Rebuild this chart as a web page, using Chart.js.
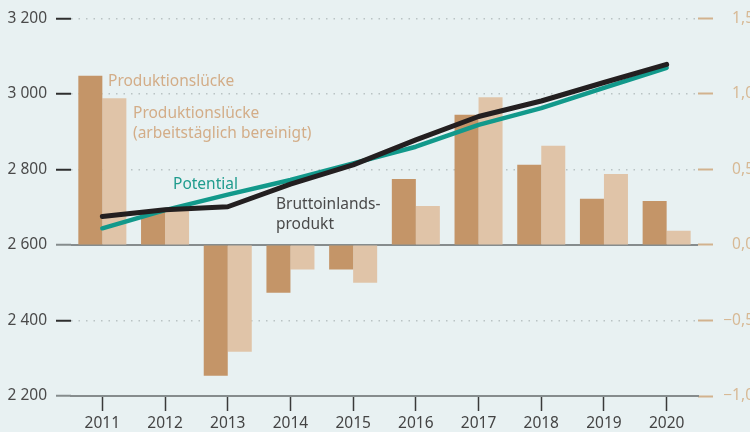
<!DOCTYPE html>
<html>
<head>
<meta charset="utf-8">
<script src="https://cdn.jsdelivr.net/npm/chart.js@4"></script>
<style>
  html, body { margin: 0; padding: 0; background: #e8f1f2; overflow: hidden; }
  #wrap { position: relative; width: 750px; height: 432px; overflow: hidden; }
  #box { position: absolute; left: 0; top: 0; width: 760px; height: 432px; }
  .note { position: absolute; font: 15.5px "Noto Sans", sans-serif; line-height: 20px; white-space: nowrap; }
</style>
</head>
<body>
<div id="wrap">
  <div id="box"><canvas id="chart" width="760" height="432"></canvas></div>
  <div class="note" style="left:108px;top:70px;color:#d3ad88">Produktionslücke</div>
  <div class="note" style="left:133px;top:102px;color:#d3ad88">Produktionslücke<br>(arbeitstäglich bereinigt)</div>
  <div class="note" style="left:173px;top:173px;color:#1f9c8e">Potential</div>
  <div class="note" style="left:276px;top:193px;color:#4a4a4a">Bruttoinlands-<br>produkt</div>
</div>
<script>
// ===== Data =====
const years = ["2011", "2012", "2013", "2014", "2015", "2016", "2017", "2018", "2019", "2020"];
const gap = [1.12, 0.22, -0.866, -0.316, -0.163, 0.437, 0.861, 0.53, 0.305, 0.291];
const gapAdjusted = [0.97, 0.245, -0.707, -0.163, -0.25, 0.258, 0.978, 0.656, 0.47, 0.093];
const potential = [2644, 2692, 2733, 2772, 2816, 2860, 2918, 2962, 3016, 3069];
const gdp = [2675, 2693, 2701, 2761, 2812, 2878, 2940, 2981, 3030, 3078];
const leftTicks = [2200, 2400, 2600, 2800, 3000, 3200];
const rightTicks = [-1.0, -0.5, 0.0, 0.5, 1.0, 1.5];

const FONT = { family: "'Noto Sans', sans-serif", size: 15.5 };

function fmtLeft(v) {
  return String(v).replace(/\B(?=(\d{3})+$)/g, " ");
}
function fmtRight(v) {
  return v.toFixed(1).replace(".", ",").replace("-", "\u2212");
}

// solid base line at 2 600 / 0,0
const zeroLine = {
  id: "zeroLine",
  beforeDatasetsDraw(chart) {
    const { ctx, chartArea, scales } = chart;
    const y = scales.y.getPixelForValue(2600);
    ctx.save();
    ctx.strokeStyle = "#868c8d";
    ctx.lineWidth = 2;
    ctx.beginPath();
    ctx.moveTo(chartArea.left, y);
    ctx.lineTo(chartArea.right, y);
    ctx.stroke();
    ctx.restore();
  }
};

new Chart(document.getElementById("chart"), {
  data: {
    labels: years,
    datasets: [
      {
        type: "line", label: "Bruttoinlandsprodukt", data: gdp, yAxisID: "y", order: 0,
        borderColor: "#231f20", borderWidth: 5, pointRadius: 0,
        borderCapStyle: "round", borderJoinStyle: "round"
      },
      {
        type: "line", label: "Potential", data: potential, yAxisID: "y", order: 1,
        borderColor: "#12998b", borderWidth: 4.5, pointRadius: 0,
        borderCapStyle: "round", borderJoinStyle: "round"
      },
      {
        type: "bar", label: "Produktionslücke", data: gap, yAxisID: "y1", order: 2,
        backgroundColor: "#c49568", categoryPercentage: 0.766, barPercentage: 1
      },
      {
        type: "bar", label: "Produktionslücke (arbeitstäglich bereinigt)", data: gapAdjusted, yAxisID: "y1", order: 3,
        backgroundColor: "#e0c4a8", categoryPercentage: 0.766, barPercentage: 1
      }
    ]
  },
  options: {
    responsive: false,
    animation: false,
    layout: { padding: { top: 18, bottom: 0, left: 0, right: 6 } },
    plugins: { legend: { display: false }, tooltip: { enabled: false } },
    scales: {
      x: {
        offset: true,
        grid: { offset: false, drawOnChartArea: false, tickLength: 15, tickColor: "#3a3a3a", tickWidth: 1.5 },
        border: { display: true, color: "#868c8d", width: 2 },
        ticks: { color: "#444", font: FONT, padding: 3, maxRotation: 0 },
        afterFit(s) { s.height = 36; }
      },
      y: {
        position: "left",
        min: 2200, max: 3200,
        afterBuildTicks(s) { s.ticks = leftTicks.map(v => ({ value: v })); },
        grid: {
          color: ctx => (ctx.tick && (ctx.tick.value === 2600 || ctx.tick.value === 2200)) ? "rgba(0,0,0,0)" : "#b9c3c4",
          lineWidth: 1.5,
          tickLength: 15,
          tickWidth: 2,
          tickColor: ctx => (ctx.tick && (ctx.tick.value === 2600 || ctx.tick.value === 2200)) ? "#868c8d" : "#2e2e2e"
        },
        border: { display: false, dash: [1.5, 6] },
        ticks: { color: "#4a4a4a", font: FONT, padding: 9, callback: v => fmtLeft(v) },
        afterFit(s) { s.width = 71; }
      },
      y1: {
        position: "right",
        min: -1, max: 1.5,
        afterBuildTicks(s) { s.ticks = rightTicks.map(v => ({ value: v })); },
        grid: { drawOnChartArea: false, tickLength: 15, tickWidth: 2, tickColor: "#d2b28e" },
        border: { display: false },
        ticks: { color: "#d7b995", font: FONT, padding: 4, crossAlign: "far", callback: v => fmtRight(v) },
        afterFit(s) { s.width = 56; }
      }
    }
  },
  plugins: [zeroLine]
});
</script>
</body>
</html>
